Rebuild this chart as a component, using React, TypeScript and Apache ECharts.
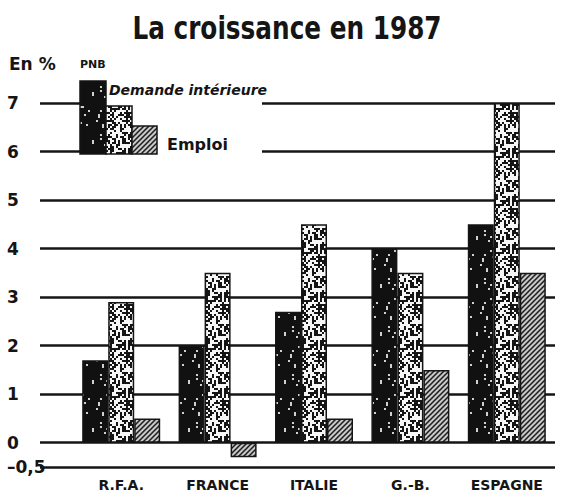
import React, { useEffect, useRef } from "react";
import * as echarts from "echarts";

const categories = ["R.F.A.", "FRANCE", "ITALIE", "G.-B.", "ESPAGNE"];
const pnb = [1.7, 2.0, 2.7, 4.0, 4.5];
const demande = [2.9, 3.5, 4.5, 3.5, 7.0];
const emploi = [0.5, -0.3, 0.5, 1.5, 3.5];
const yTicks = [-0.5, 0, 1, 2, 3, 4, 5, 6, 7];
const seriesNames = ["PNB", "Demande intérieure", "Emploi"];

function lcg(seed: number) {
  let s = seed >>> 0;
  return () => {
    s = (Math.imul(s, 1664525) + 1013904223) >>> 0;
    return s / 4294967296;
  };
}

function speckle(bg: string, fg: string, prob: number, seed: number, size = 48, cell = 2) {
  const c = document.createElement("canvas");
  c.width = size;
  c.height = size;
  const ctx = c.getContext("2d")!;
  ctx.fillStyle = bg;
  ctx.fillRect(0, 0, size, size);
  const r = lcg(seed);
  ctx.fillStyle = fg;
  const n = size / cell;
  for (let y = 0; y < n; y++) {
    for (let x = 0; x < n; x++) {
      if (r() < prob) ctx.fillRect(x * cell, y * cell, cell, cell);
    }
  }
  return c;
}

function hatch(bg: string, fg: string, tile = 5, lw = 1.5) {
  const c = document.createElement("canvas");
  c.width = tile;
  c.height = tile;
  const ctx = c.getContext("2d")!;
  ctx.fillStyle = bg;
  ctx.fillRect(0, 0, tile, tile);
  ctx.strokeStyle = fg;
  ctx.lineWidth = lw;
  ctx.beginPath();
  ctx.moveTo(-1, tile + 1);
  ctx.lineTo(tile + 1, -1);
  ctx.moveTo(-1, 1);
  ctx.lineTo(1, -1);
  ctx.moveTo(tile - 1, tile + 1);
  ctx.lineTo(tile + 1, tile - 1);
  ctx.stroke();
  return c;
}

export default function App() {
  const ref = useRef<HTMLDivElement>(null);
  useEffect(() => {
    if (!ref.current) return;
    const chart = echarts.init(ref.current, undefined, { renderer: "svg" });
    const pPnb = { image: speckle("#111111", "#d0d0d0", 0.05, 7), repeat: "repeat" } as any;
    const pDem = { image: speckle("#f6f6f6", "#151515", 0.47, 91), repeat: "repeat" } as any;
    const pEmp = { image: hatch("#c8c8c8", "#1c1c1c"), repeat: "repeat" } as any;
    const ink = "#151515";
    const font = "DejaVu Sans";
    const barStyle = (fill: any) => ({ color: fill, borderColor: ink, borderWidth: 1.5 });

    chart.setOption({
      animation: false,
      backgroundColor: "#ffffff",
      grid: { left: 73, right: 10, top: 103, bottom: 27 },
      xAxis: {
        type: "category",
        data: categories,
        axisLine: { show: false },
        axisTick: { show: false },
        axisLabel: {
          margin: 11,
          color: ink,
          fontFamily: font,
          fontWeight: "bold",
          fontSize: 14,
        },
      },
      yAxis: {
        type: "value",
        min: -0.5,
        max: 7,
        axisLine: { show: false },
        axisTick: {
          show: true,
          customValues: yTicks,
          length: 33,
          lineStyle: { color: ink, width: 2.5 },
        },
        axisLabel: {
          customValues: yTicks,
          align: "left",
          margin: 66,
          color: ink,
          fontFamily: font,
          fontWeight: "bold",
          fontSize: 17,
          formatter: (v: number) => (v === -0.5 ? "–0,5" : String(v)),
        },
        splitLine: { show: true, lineStyle: { color: ink, width: 2.5 } },
      },
      series: [
        { name: seriesNames[0], type: "bar", data: pnb, barWidth: 26, barGap: "0%", itemStyle: barStyle(pPnb) },
        { name: seriesNames[1], type: "bar", data: demande, barWidth: 26, barGap: "0%", itemStyle: barStyle(pDem) },
        { name: seriesNames[2], type: "bar", data: emploi, barWidth: 26, barGap: "0%", itemStyle: barStyle(pEmp) },
      ],
      graphic: [
        {
          type: "text",
          x: 287,
          y: 28,
          scaleX: 0.86,
          z: 100,
          style: {
            text: "La croissance en 1987",
            fontFamily: "DejaVu Sans Condensed",
            fontWeight: "bold",
            fontSize: 32,
            fill: ink,
            textAlign: "center",
            textVerticalAlign: "middle",
          },
        },
        { type: "rect", z: 100, shape: { x: 80, y: 95, width: 182, height: 64 }, style: { fill: "#ffffff" } },
        {
          type: "text", x: 9, y: 64, z: 101,
          style: { text: "En %", fontFamily: font, fontWeight: "bold", fontSize: 17, fill: ink, textVerticalAlign: "middle" },
        },
        {
          type: "text", x: 80, y: 64, z: 101,
          style: { text: seriesNames[0], fontFamily: font, fontWeight: "bold", fontSize: 11, fill: ink, textVerticalAlign: "middle" },
        },
        { type: "rect", z: 101, shape: { x: 80, y: 81, width: 26, height: 73 }, style: { fill: pPnb, stroke: ink, lineWidth: 1.5 } },
        { type: "rect", z: 101, shape: { x: 106, y: 106, width: 26, height: 48 }, style: { fill: pDem, stroke: ink, lineWidth: 1.5 } },
        { type: "rect", z: 101, shape: { x: 132, y: 126, width: 25, height: 28 }, style: { fill: pEmp, stroke: ink, lineWidth: 1.5 } },
        {
          type: "text", x: 109, y: 90, z: 101,
          style: { text: seriesNames[1], fontFamily: font, fontWeight: "bold", fontStyle: "italic", fontSize: 14, fill: ink, textVerticalAlign: "middle" },
        },
        {
          type: "text", x: 167, y: 144, z: 101,
          style: { text: seriesNames[2], fontFamily: font, fontWeight: "bold", fontSize: 16, fill: ink, textVerticalAlign: "middle" },
        },
      ],
    });
    return () => chart.dispose();
  }, []);
  return <div ref={ref} style={{ width: 565, height: 494, position: "absolute", left: 0, top: 0 }} />;
}
